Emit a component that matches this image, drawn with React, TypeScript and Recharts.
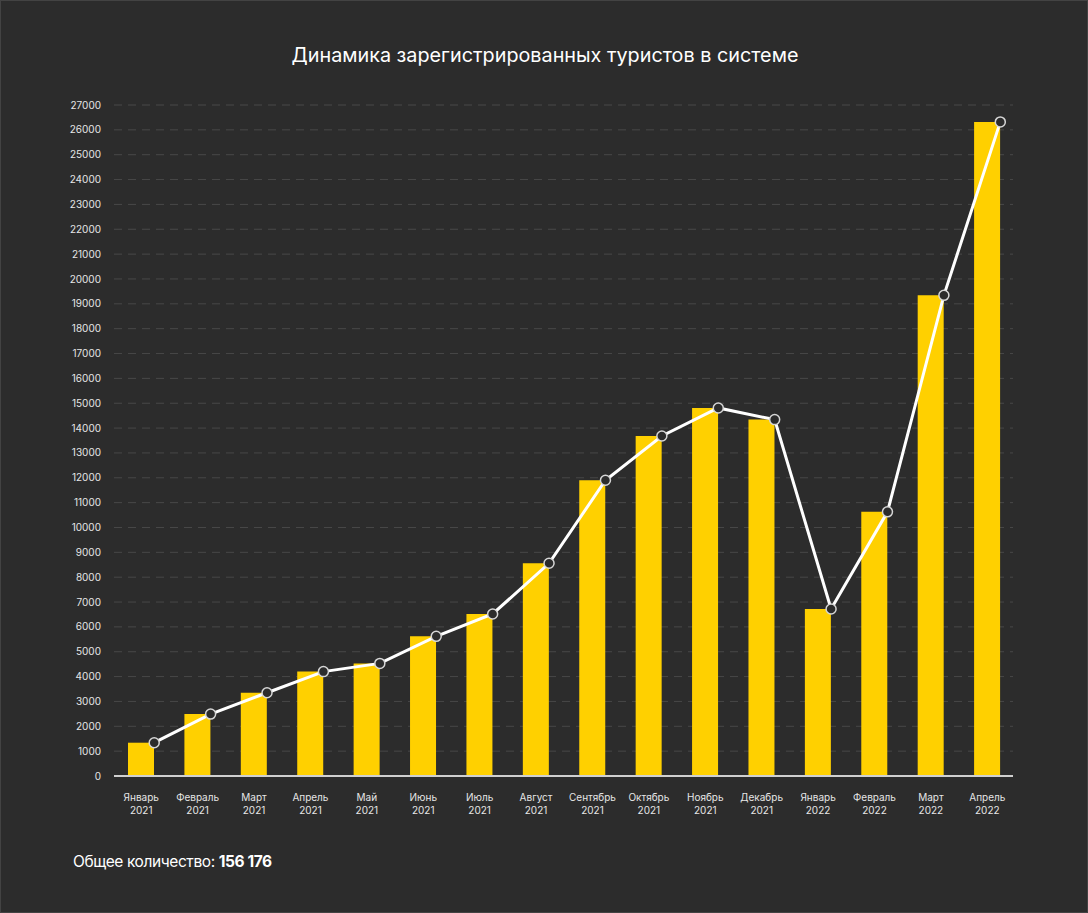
import React from 'react';
import { ComposedChart, Bar, Line, XAxis, YAxis, CartesianGrid } from 'recharts';

const months = [
  'Январь', 'Февраль', 'Март', 'Апрель', 'Май', 'Июнь', 'Июль', 'Август',
  'Сентябрь', 'Октябрь', 'Ноябрь', 'Декабрь', 'Январь', 'Февраль', 'Март', 'Апрель',
];
const years = [
  '2021', '2021', '2021', '2021', '2021', '2021', '2021', '2021',
  '2021', '2021', '2021', '2021', '2022', '2022', '2022', '2022',
];
const tourists = [
  1340, 2490, 3350, 4200, 4530, 5620, 6520, 8560,
  11900, 13680, 14810, 14340, 6720, 10630, 19340, 26320,
];
const yTicks = [
  0, 1000, 2000, 3000, 4000, 5000, 6000, 7000, 8000, 9000, 10000, 11000, 12000, 13000,
  14000, 15000, 16000, 17000, 18000, 19000, 20000, 21000, 22000, 23000, 24000, 25000, 26000, 27000,
];
const title = 'Динамика зарегистрированных туристов в системе';
const totalLabel = 'Общее количество:';
const totalValue = '156 176';

const data = months.map((m, i) => ({
  key: `${m} ${years[i]}`,
  month: m,
  year: years[i],
  value: tourists[i],
}));

const FONT = 'Inter, "Noto Sans", sans-serif';
const BAR = 26;

// labels sit under the yellow bar, which is the left half of the category
const MonthTick = (props: any) => {
  const { x, y, index } = props;
  const d = data[index];
  return (
    <text x={x - BAR / 2} y={y} textAnchor="middle" fill="#e6e6e6" fontSize={10} fontFamily={FONT}>
      <tspan x={x - BAR / 2} dy={17}>{d.month}</tspan>
      <tspan x={x - BAR / 2} dy={12.5}>{d.year}</tspan>
    </text>
  );
};

export default function App() {
  return (
    <div
      style={{
        position: 'absolute',
        left: 0,
        top: 0,
        width: 1088,
        height: 913,
        background: '#2c2c2c',
        border: '1px solid #434343',
        boxSizing: 'border-box',
        fontFamily: FONT,
        overflow: 'hidden',
      }}
    >
      <div
        style={{
          position: 'absolute',
          top: 42,
          left: 0,
          width: 1088,
          textAlign: 'center',
          color: '#ffffff',
          fontSize: 19.8,
        }}
      >
        {title}
      </div>
      <div
        style={{
          position: 'absolute',
          left: 72,
          top: 851,
          color: '#ffffff',
          fontSize: 15.5,
          letterSpacing: -0.4,
        }}
      >
        {totalLabel} <b style={{ fontWeight: 700 }}>{totalValue}</b>
      </div>
      <div style={{ position: 'absolute', left: -1, top: -1 }}>
        <ComposedChart
          width={1088}
          height={913}
          data={data}
          margin={{ top: 105, right: 75, bottom: 77, left: 0 }}
          barGap={0}
          barSize={BAR}
        >
          <CartesianGrid vertical={false} stroke="#484848" strokeDasharray="8 6" />
          <XAxis
            dataKey="key"
            interval={0}
            height={60}
            padding={{ left: 12, right: -15.5 }}
            axisLine={{ stroke: '#d0d0d0', strokeWidth: 2 }}
            tickLine={false}
            tick={<MonthTick />}
          />
          <YAxis
            width={114}
            domain={[0, 27000]}
            ticks={yTicks}
            interval={0}
            axisLine={false}
            tickLine={false}
            tickMargin={7}
            tick={{ fill: '#e6e6e6', fontSize: 10, fontFamily: FONT }}
          />
          <Bar dataKey="value" fill="#ffd000" isAnimationActive={false} />
          <Bar dataKey="value" fill="transparent" isAnimationActive={false} />
          <Line
            dataKey="value"
            stroke="#ffffff"
            strokeWidth={3}
            dot={{ r: 5, fill: '#2c2c2c', stroke: '#d6d6d6', strokeWidth: 1.5 }}
            activeDot={false}
            isAnimationActive={false}
          />
        </ComposedChart>
      </div>
    </div>
  );
}
